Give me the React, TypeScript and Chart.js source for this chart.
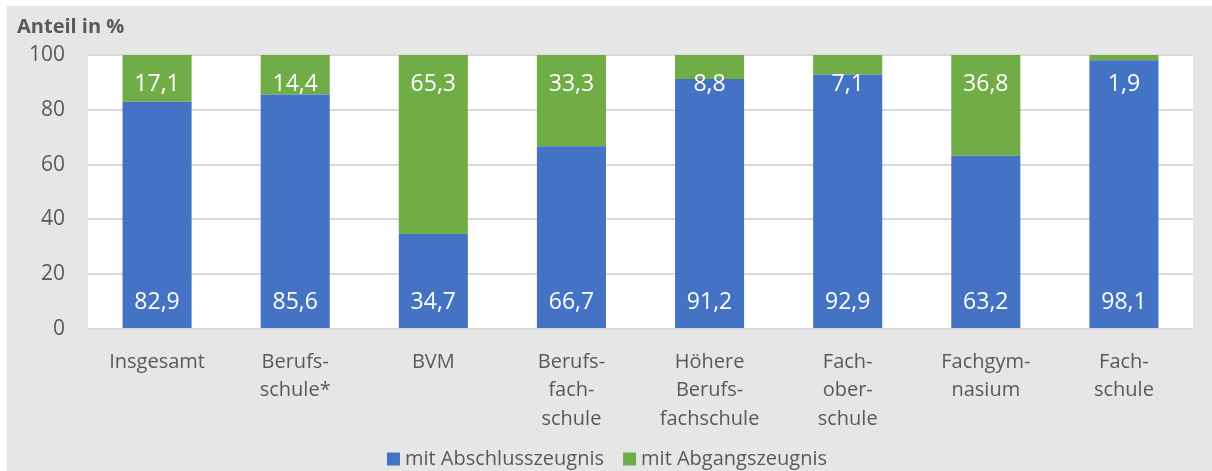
import React, { useEffect, useRef } from "react";
import { Chart, registerables } from "chart.js";

Chart.register(...registerables);

const categories: string[][] = [
  ["Insgesamt"],
  ["Berufs-", "schule*"],
  ["BVM"],
  ["Berufs-", "fach-", "schule"],
  ["Höhere", "Berufs-", "fachschule"],
  ["Fach-", "ober-", "schule"],
  ["Fachgym-", "nasium"],
  ["Fach-", "schule"],
];
const abschluss = [82.9, 85.6, 34.7, 66.7, 91.2, 92.9, 63.2, 98.1];
const abgang = [17.1, 14.4, 65.3, 33.3, 8.8, 7.1, 36.8, 1.9];
const seriesNames = ["mit Abschlusszeugnis", "mit Abgangszeugnis"];
const yTitle = "Anteil in %";

const BLUE = "#4472C4";
const GREEN = "#70AD47";
const TEXT = "#595959";
const BG = "#e6e6e6";
const FONT = "'Open Sans', 'Noto Sans', sans-serif";

const fmt = (v: number) => v.toFixed(1).replace(".", ",");

export default function App() {
  const ref = useRef<HTMLCanvasElement | null>(null);

  useEffect(() => {
    document.body.style.margin = "0";
    const canvas = ref.current!;
    const decor = {
      id: "decor",
      beforeDraw(chart: any) {
        const { ctx, chartArea } = chart;
        ctx.save();
        ctx.fillStyle = "#ffffff";
        ctx.fillRect(0, 0, chart.width, chart.height);
        ctx.fillStyle = BG;
        ctx.fillRect(7, 6, chart.width - 7, chart.height - 6);
        ctx.fillStyle = "#ffffff";
        ctx.fillRect(chartArea.left, chartArea.top, chartArea.right - chartArea.left, chartArea.bottom - chartArea.top);
        ctx.restore();
      },
      afterDatasetsDraw(chart: any) {
        const { ctx } = chart;
        ctx.save();
        ctx.fillStyle = "#ffffff";
        ctx.font = `23px ${FONT}`;
        ctx.textAlign = "center";
        ctx.textBaseline = "middle";
        const m0 = chart.getDatasetMeta(0);
        const m1 = chart.getDatasetMeta(1);
        m0.data.forEach((bar: any, i: number) => {
          ctx.fillText(fmt(abschluss[i]), bar.x, bar.base - 26);
        });
        m1.data.forEach((bar: any, i: number) => {
          ctx.fillText(fmt(abgang[i]), bar.x, bar.y + 29);
        });
        ctx.restore();
      },
      afterDraw(chart: any) {
        const { ctx } = chart;
        ctx.save();
        ctx.fillStyle = TEXT;
        ctx.font = `bold 20px ${FONT}`;
        ctx.textAlign = "left";
        ctx.textBaseline = "middle";
        ctx.fillText(yTitle, 17, 27);
        ctx.font = `20px ${FONT}`;
        const colors = [BLUE, GREEN];
        const box = 13, gap = 5, itemGap = 19;
        const widths = seriesNames.map((s) => ctx.measureText(s).width);
        const total = widths.reduce((a, w) => a + box + gap + w, 0) + itemGap * (seriesNames.length - 1);
        let x = 607 - total / 2;
        const cy = 459;
        seriesNames.forEach((s, i) => {
          ctx.fillStyle = colors[i];
          ctx.fillRect(x, cy - 6.5, box, box);
          x += box + gap;
          ctx.fillStyle = TEXT;
          ctx.fillText(s, x, cy);
          x += widths[i] + itemGap;
        });
        ctx.restore();
      },
    };

    const chart = new Chart(canvas, {
      type: "bar",
      data: {
        labels: categories,
        datasets: [
          { label: seriesNames[0], data: abschluss, backgroundColor: BLUE, categoryPercentage: 1, barPercentage: 0.5 },
          { label: seriesNames[1], data: abgang, backgroundColor: GREEN, categoryPercentage: 1, barPercentage: 0.5 },
        ],
      },
      options: {
        responsive: false,
        animation: false,
        devicePixelRatio: 1,
        layout: { padding: { left: 0, right: 19, top: 55, bottom: 0 } },
        plugins: { legend: { display: false }, title: { display: false }, tooltip: { enabled: false } },
        scales: {
          x: {
            stacked: true,
            grid: { display: false, drawTicks: false },
            border: { display: false },
            ticks: { color: TEXT, font: { family: FONT, size: 20, lineHeight: 1.42 }, padding: 19, maxRotation: 0, autoSkip: false },
            afterFit: (s: any) => { s.height = 142; },
          },
          y: {
            stacked: true,
            min: 0,
            max: 100,
            ticks: { stepSize: 20, color: TEXT, font: { family: FONT, size: 21 }, padding: 23 },
            grid: { color: "#d9d9d9", lineWidth: 2, drawTicks: false },
            border: { display: false },
            afterFit: (s: any) => { s.width = 88; },
          },
        },
      },
      plugins: [decor],
    });
    return () => chart.destroy();
  }, []);

  return (
    <div style={{ width: 1212, height: 471 }}>
      <canvas ref={ref} width={1212} height={471} style={{ display: "block" }} />
    </div>
  );
}
